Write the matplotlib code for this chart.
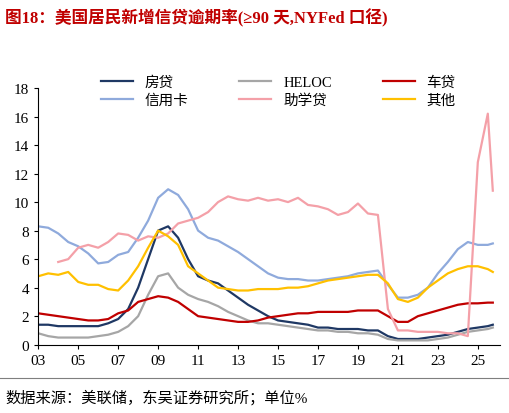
import numpy as np
import matplotlib
matplotlib.use('Agg')
import matplotlib.pyplot as plt

plt.rcParams['font.family'] = ['Liberation Serif', 'Noto Sans CJK SC']

# half-year grid plus last quarter
periods = list(np.arange(2003.0, 2025.51, 0.5)) + [2025.75]

mortgage = [1.4, 1.4, 1.3, 1.3, 1.3, 1.3, 1.3, 1.5, 1.8, 2.5, 4.0, 6.0, 8.0, 8.3, 7.5, 6.0,
            4.8, 4.5, 4.3, 3.8, 3.3, 2.8, 2.4, 2.0, 1.7, 1.6, 1.5, 1.4, 1.2, 1.2, 1.1, 1.1,
            1.1, 1.0, 1.0, 0.6, 0.4, 0.4, 0.4, 0.5, 0.6, 0.7, 0.9, 1.1, 1.2, 1.3, 1.4]
heloc = [0.8, 0.6, 0.5, 0.5, 0.5, 0.5, 0.6, 0.7, 0.9, 1.3, 2.0, 3.5, 4.8, 5.0, 4.0, 3.5,
         3.2, 3.0, 2.7, 2.3, 2.0, 1.7, 1.5, 1.5, 1.4, 1.3, 1.2, 1.1, 1.0, 1.0, 0.9, 0.9,
         0.8, 0.8, 0.7, 0.4, 0.3, 0.3, 0.3, 0.3, 0.4, 0.5, 0.7, 0.9, 1.0, 1.1, 1.2]
auto = [2.2, 2.1, 2.0, 1.9, 1.8, 1.7, 1.7, 1.8, 2.2, 2.4, 3.0, 3.2, 3.4, 3.3, 3.0, 2.5,
        2.0, 1.9, 1.8, 1.7, 1.6, 1.6, 1.7, 1.9, 2.0, 2.1, 2.2, 2.2, 2.3, 2.3, 2.3, 2.3,
        2.4, 2.4, 2.4, 2.0, 1.6, 1.6, 2.0, 2.2, 2.4, 2.6, 2.8, 2.9, 2.9, 2.95, 2.95]
card = [8.3, 8.2, 7.8, 7.2, 6.9, 6.4, 5.7, 5.8, 6.3, 6.5, 7.5, 8.7, 10.3, 10.9, 10.5, 9.5,
        8.0, 7.5, 7.3, 6.9, 6.5, 6.0, 5.5, 5.0, 4.7, 4.6, 4.6, 4.5, 4.5, 4.6, 4.7, 4.8,
        5.0, 5.1, 5.2, 4.2, 3.3, 3.3, 3.5, 4.0, 5.0, 5.8, 6.7, 7.2, 7.0, 7.0, 7.1]
student = [np.nan, np.nan, 5.8, 6.0, 6.8, 7.0, 6.8, 7.2, 7.8, 7.7, 7.3, 7.6, 7.5, 7.8, 8.5, 8.7,
           8.9, 9.3, 10.0, 10.4, 10.2, 10.1, 10.3, 10.1, 10.2, 10.0, 10.3, 9.8, 9.7, 9.5, 9.1, 9.3,
           9.9, 9.2, 9.1, 2.5, 1.0, 1.0, 0.9, 0.9, 0.9, 0.8, 0.8, 0.6, 12.8, 16.2, 10.8]
other = [4.8, 5.0, 4.9, 5.1, 4.4, 4.2, 4.2, 3.9, 3.8, 4.5, 5.5, 6.8, 8.0, 7.6, 7.0, 5.5,
         5.0, 4.5, 4.0, 3.9, 3.8, 3.8, 3.9, 3.9, 3.9, 4.0, 4.0, 4.1, 4.3, 4.5, 4.6, 4.7,
         4.8, 4.9, 4.9, 4.3, 3.2, 3.0, 3.3, 4.0, 4.5, 5.0, 5.3, 5.5, 5.5, 5.3, 5.1]

series = [
    ('房贷', mortgage, '#1f3864'),
    ('HELOC', heloc, '#a6a6a6'),
    ('车贷', auto, '#c00000'),
    ('信用卡', card, '#8faadc'),
    ('助学贷', student, '#f4a0a8'),
    ('其他', other, '#ffc000'),
]

fig = plt.figure(figsize=(5.1, 4.14), dpi=100)
ax = fig.add_axes([0.075, 0.165, 0.905, 0.62])

lines = {}
for name, vals, col in series:
    lines[name], = ax.plot(periods, vals, color=col, lw=1.6, label=name)

ax.set_xlim(2003, 2026.1)
ax.set_ylim(0, 18)
ax.set_yticks(range(0, 19, 2))
ax.set_xticks(range(2003, 2026, 2))
ax.set_xticklabels(['%02d' % (y % 100) for y in range(2003, 2026, 2)])
ax.tick_params(labelsize=11, length=3)
for s in ['top', 'right']:
    ax.spines[s].set_visible(False)

# legend fills column by column, so order it to read row by row
order = ['房贷', '信用卡', 'HELOC', '助学贷', '车贷', '其他']
ax.legend([lines[n] for n in order], order, loc='upper center', bbox_to_anchor=(0.52, 1.1),
          ncol=3, frameon=False, fontsize=10.5, handlelength=2.2, columnspacing=3.5,
          labelspacing=0.3)

fig.text(0.01, 0.955, '图18：美国居民新增信贷逾期率(≥90 天,NYFed 口径)', color='#c00000',
         fontsize=12, fontweight='bold', va='center')
fig.add_artist(plt.Line2D([0.0, 1.0], [0.085, 0.085], color='#7f7f7f', lw=0.8))
fig.text(0.01, 0.04, '数据来源：美联储，东吴证券研究所；单位%', fontsize=11, va='center')

fig.savefig('out.png', dpi=100)
